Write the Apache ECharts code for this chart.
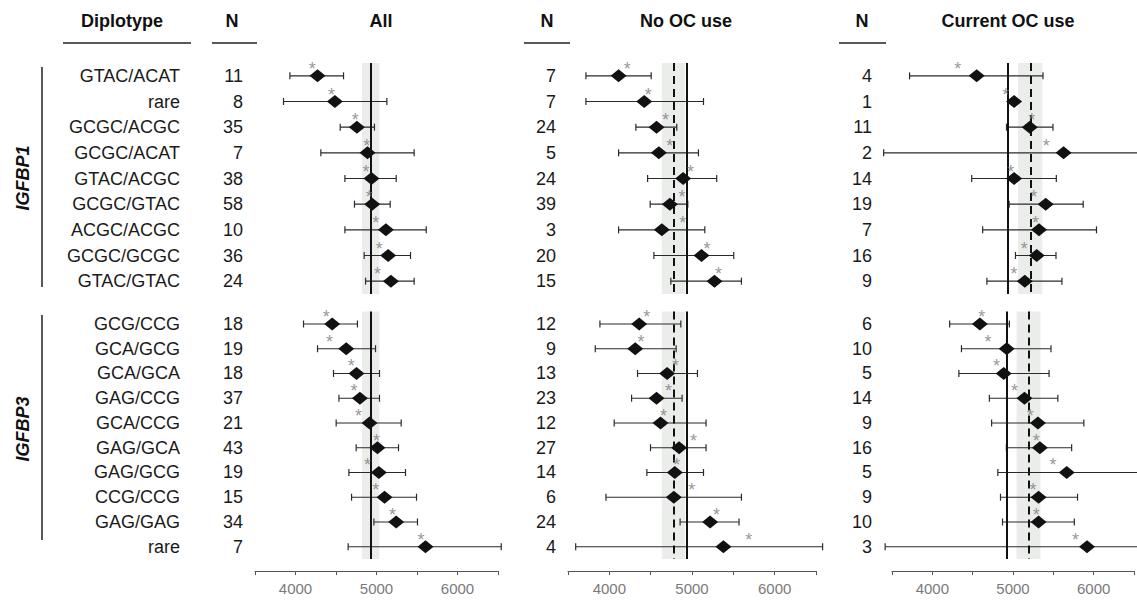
<!DOCTYPE html>
<html>
<head>
<meta charset="utf-8">
<script src="https://cdn.jsdelivr.net/npm/echarts@6/dist/echarts.min.js"></script>
<style>
  html, body { margin: 0; background: #fff; }
  #chart { width: 1137px; height: 600px; }
</style>
</head>
<body>
<div id="chart"></div>
<script>
// diplotype rows
const igfbp1Types = ['GTAC/ACAT', 'rare', 'GCGC/ACGC', 'GCGC/ACAT', 'GTAC/ACGC', 'GCGC/GTAC', 'ACGC/ACGC', 'GCGC/GCGC', 'GTAC/GTAC'];
const igfbp3Types = ['GCG/CCG', 'GCA/GCG', 'GCA/GCA', 'GAG/CCG', 'GCA/CCG', 'GAG/GCA', 'GAG/GCG', 'CCG/CCG', 'GAG/GAG', 'rare'];

// All
const allN1 = [11, 8, 35, 7, 38, 58, 10, 36, 24];
const allMean1 = [4272, 4486, 4758, 4889, 4938, 4947, 5116, 5144, 5178];
const allLo1 = [3931, 3852, 4552, 4313, 4610, 4728, 4610, 4848, 4865];
const allHi1 = [4593, 5128, 4975, 5465, 5243, 5169, 5614, 5420, 5465];
const allStar1 = [4206, 4445, 4737, 4881, 4869, 4910, 4992, 5033, 5012];
const allN3 = [18, 19, 18, 37, 21, 43, 19, 15, 34, 7];
const allMean3 = [4453, 4626, 4753, 4795, 4914, 5012, 5029, 5099, 5243, 5605];
const allLo3 = [4099, 4272, 4469, 4536, 4502, 4749, 4659, 4692, 4968, 4650];
const allHi3 = [4765, 4988, 5037, 5037, 5305, 5272, 5358, 5494, 5506, 6540];
const allStar3 = [4379, 4420, 4688, 4721, 4778, 5000, 4889, 4992, 5198, 5548];

// No OC use
const noN1 = [7, 7, 24, 5, 24, 39, 3, 20, 15];
const noMean1 = [4112, 4422, 4571, 4599, 4893, 4732, 4635, 5115, 5272];
const noLo1 = [3717, 3717, 4321, 4112, 4463, 4494, 4112, 4539, 4744];
const noHi1 = [4506, 5139, 4816, 5078, 5299, 4949, 5155, 5505, 5598];
const noStar1 = [4216, 4470, 4680, 4732, 4982, 4880, 4889, 5182, 5320];
const noN3 = [12, 9, 13, 23, 12, 27, 14, 6, 24, 4];
const noMean3 = [4361, 4313, 4699, 4571, 4619, 4844, 4792, 4780, 5219, 5380];
const noLo3 = [3886, 3830, 4341, 4269, 4059, 4498, 4454, 3959, 4856, 3593];
const noHi3 = [4865, 4808, 5066, 4880, 5170, 5170, 5139, 5598, 5569, 6580];
const noStar3 = [4454, 4382, 4801, 4716, 4656, 5018, 4816, 4998, 5296, 5686];

// Current OC use
const curN1 = [4, 1, 11, 2, 14, 19, 7, 16, 9];
const curMean1 = [4537, 4995, 5187, 5601, 4995, 5382, 5300, 5272, 5126];
const curLo1 = [3715, null, 4902, 3398, 4476, 4934, 4610, 5012, 4662];
const curHi1 = [5349, null, 5471, 6700, 5512, 5841, 6004, 5508, 5581];
const curStar1 = [4305, 4894, 5211, 5390, 4955, 5235, 5256, 5118, 4995];
const curN3 = [6, 10, 5, 14, 9, 16, 5, 9, 10, 3];
const curMean3 = [4589, 4922, 4885, 5142, 5309, 5333, 5666, 5317, 5317, 5918];
const curLo3 = [4215, 4361, 4329, 4707, 4735, 4918, 4812, 4845, 4870, 3415];
const curHi3 = [4955, 5471, 5447, 5556, 5878, 5727, 6700, 5800, 5760, 6700];
const curStar3 = [4613, 4690, 4796, 5020, 5215, 5288, 5495, 5248, 5288, 5776];

// reference lines (solid, dashed) and shaded band
const allRef = 4928, allBand = [4822, 5035];
const noRef = 4937, noDash = 4784, noBand = [4635, 4917];
const curRef = 4922, curDash = 5199, curBand = [5044, 5341];

const xTicks = [3500, 6500, 500];
const FONT = 'Liberation Sans, Arial, Helvetica, sans-serif';

const panels = [
  { left: 255, width: 243, nMargin: 12, ref: allRef, dash: null, band: allBand,
    groups: [[allN1, allMean1, allLo1, allHi1, allStar1], [allN3, allMean3, allLo3, allHi3, allStar3]] },
  { left: 568, width: 248, nMargin: 12, ref: noRef, dash: noDash, band: noBand,
    groups: [[noN1, noMean1, noLo1, noHi1, noStar1], [noN3, noMean3, noLo3, noHi3, noStar3]] },
  { left: 892, width: 246, nMargin: 20, ref: curRef, dash: curDash, band: curBand,
    groups: [[curN1, curMean1, curLo1, curHi1, curStar1], [curN3, curMean3, curLo3, curHi3, curStar3]] }
];
const rowSets = [igfbp1Types, igfbp3Types];
const gridTop = [63, 311.6];
const gridHeight = [231, 247.5];

const grid = [], xAxis = [], yAxis = [], series = [];

function renderErr(params, api) {
  const lo = api.value(1), hi = api.value(2);
  if (lo == null || isNaN(lo)) return;
  const a = api.coord([lo, api.value(0)]);
  const b = api.coord([hi, api.value(0)]);
  const st = { stroke: '#2a2a2a', lineWidth: 1.2 };
  return {
    type: 'group',
    children: [
      { type: 'line', shape: { x1: a[0], y1: a[1], x2: b[0], y2: b[1] }, style: st },
      { type: 'line', shape: { x1: a[0], y1: a[1] - 3.5, x2: a[0], y2: a[1] + 3.5 }, style: st },
      { type: 'line', shape: { x1: b[0], y1: b[1] - 3.5, x2: b[0], y2: b[1] + 3.5 }, style: st }
    ]
  };
}

panels.forEach((p, pi) => {
  p.groups.forEach((g, gi) => {
    const idx = grid.length;
    const [nArr, mean, lo, hi, star] = g;
    const rows = rowSets[gi];
    grid.push({ left: p.left, width: p.width, top: gridTop[gi], height: gridHeight[gi] });

    xAxis.push({
      type: 'value', gridIndex: idx, min: xTicks[0], max: xTicks[1], interval: xTicks[2],
      show: gi === 1, offset: 12,
      axisLine: { show: true, lineStyle: { color: '#555', width: 1 } },
      axisTick: { show: true, length: 4, lineStyle: { color: '#555' } },
      axisLabel: { color: '#7a7a7a', fontSize: 15, fontFamily: FONT, margin: 10,
        formatter: v => (v % 1000 === 0 ? String(v) : ''), showMinLabel: true, showMaxLabel: true },
      splitLine: { show: false }
    });

    // diplotype names (first panel only)
    yAxis.push({
      type: 'category', gridIndex: idx, inverse: true, data: rows, position: 'left',
      axisLine: { show: false }, axisTick: { show: false },
      axisLabel: { show: pi === 0, margin: 75, color: '#1a1a1a', fontSize: 18, fontFamily: FONT }
    });
    // N column
    yAxis.push({
      type: 'category', gridIndex: idx, inverse: true, data: nArr.map(String), position: 'left',
      axisLine: { show: false }, axisTick: { show: false },
      axisLabel: { margin: p.nMargin, color: '#1a1a1a', fontSize: 18, fontFamily: FONT }
    });
    const yIdx = yAxis.length - 2;

    const refLines = [{ xAxis: p.ref, lineStyle: { type: 'solid', width: 2, color: '#111' } }];
    if (p.dash != null) refLines.push({ xAxis: p.dash, lineStyle: { type: [8, 5], width: 2, color: '#111' } });

    series.push({
      type: 'scatter', xAxisIndex: idx, yAxisIndex: yIdx, z: 1, silent: true,
      symbolSize: 0, data: mean.map((m, i) => [m, i]),
      markArea: { silent: true, itemStyle: { color: '#ebedeb' },
        data: [[{ xAxis: p.band[0] }, { xAxis: p.band[1] }]] },
      markLine: { silent: true, symbol: 'none', label: { show: false }, data: refLines }
    });
    series.push({
      type: 'custom', xAxisIndex: idx, yAxisIndex: yIdx, z: 3, silent: true,
      renderItem: renderErr,
      encode: { x: [1, 2], y: 0 },
      data: rows.map((r, i) => [i, lo[i], hi[i]])
    });
    series.push({
      type: 'scatter', xAxisIndex: idx, yAxisIndex: yIdx, z: 4, silent: true,
      symbol: 'diamond', symbolSize: [16, 13], itemStyle: { color: '#111', opacity: 1 },
      data: mean.map((m, i) => [m, i])
    });
    series.push({
      type: 'scatter', xAxisIndex: idx, yAxisIndex: yIdx, z: 5, silent: true,
      symbolSize: 0,
      label: { show: true, formatter: '*', position: 'inside', offset: [0, -7],
        color: '#7c7c7c', fontSize: 18, fontFamily: FONT },
      data: star.map((s, i) => [s, i])
    });
  });
});

function header(text, x) {
  return { type: 'text', x: x, y: 21,
    style: { text: text, font: 'bold 18px ' + FONT, fill: '#111', align: 'center', verticalAlign: 'middle' } };
}
function rule(x1, x2) {
  return { type: 'line', shape: { x1: x1, y1: 43, x2: x2, y2: 43 }, style: { stroke: '#222', lineWidth: 1.5 } };
}
function groupLabel(text, y, y1, y2) {
  return [
    { type: 'line', shape: { x1: 42, y1: y1, x2: 42, y2: y2 }, style: { stroke: '#222', lineWidth: 1.5 } },
    { type: 'text', x: 23, y: y, rotation: Math.PI / 2,
      style: { text: text, font: 'italic bold 18px ' + FONT, fill: '#111', align: 'center', verticalAlign: 'middle' } }
  ];
}

const graphic = [
  header('Diplotype', 122), rule(63, 191),
  header('N', 232), rule(212, 257),
  header('All', 381),
  header('N', 547), rule(524, 570),
  header('No OC use', 686),
  header('N', 862), rule(839, 886),
  header('Current OC use', 1008),
  ...groupLabel('IGFBP1', 178, 67, 287),
  ...groupLabel('IGFBP3', 429, 315, 540)
];

const chart = echarts.init(document.getElementById('chart'), null, { renderer: 'svg' });
chart.setOption({
  animation: false,
  backgroundColor: '#fff',
  grid, xAxis, yAxis, series, graphic
});
</script>
</body>
</html>
